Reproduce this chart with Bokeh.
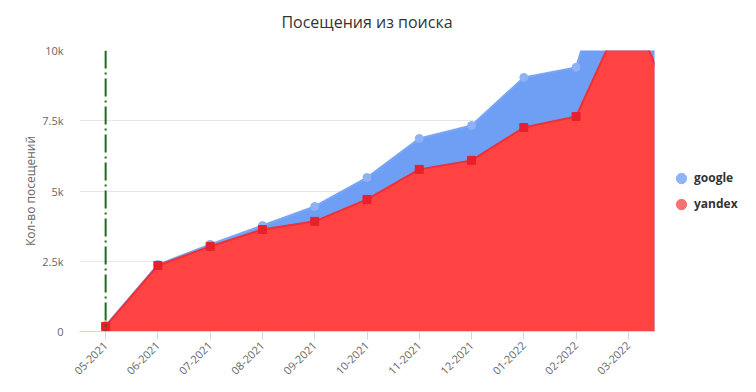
import math
from bokeh.plotting import figure
from bokeh.models import ColumnDataSource, Span, FixedTicker, Range1d, Legend, LegendItem, Title
from bokeh.embed import file_html
from bokeh.resources import INLINE

months = ["05-2021", "06-2021", "07-2021", "08-2021", "09-2021", "10-2021",
          "11-2021", "12-2021", "01-2022", "02-2022", "03-2022", "04-2022"]
google = [210, 2380, 3100, 3770, 4450, 5480, 6870, 7330, 9040, 9400, 15500, 4800]
yandex = [180, 2350, 3030, 3630, 3920, 4700, 5770, 6090, 7260, 7650, 11700, 7400]
shown_months = months[:11]
y_ticks = [0, 2500, 5000, 7500, 10000]
y_tick_labels = ["0", "2.5k", "5k", "7.5k", "10k"]

FONT = "Open Sans"

src = ColumnDataSource(dict(x=list(range(len(months))), month=months,
                            google=google, yandex=yandex))

p = figure(frame_width=575, frame_height=281, output_backend="svg", toolbar_location=None,
           x_range=Range1d(-0.5, len(shown_months) - 0.5),
           y_range=Range1d(0, 10000),
           min_border_left=79, min_border_right=10, min_border_top=50,
           min_border_bottom=56)
p.outline_line_color = None
p.background_fill_color = "white"

p.title.text = "Посещения из поиска"
p.title.align = "center"
p.title.text_font = FONT
p.title.text_font_size = "16px"
p.title.text_font_style = "normal"
p.title.text_color = "#333333"
p.title.offset = 0
p.title.standoff = 0

# invisible spacer between the title and the plot area
spacer = Title(text=" ", text_font_size="14px", standoff=0, text_color="white")
p.add_layout(spacer, "above")

# google series
p.varea(x="x", y1=0, y2="google", source=src, fill_color="#6f9ff5", fill_alpha=1.0)
p.line(x="x", y="google", source=src, line_color="#7aa6f4", line_width=2)
p.scatter(x="x", y="google", source=src, marker="circle", size=8,
          fill_color="#8cb2f5", line_color="#8cb2f5")
# yandex series
p.varea(x="x", y1=0, y2="yandex", source=src, fill_color="#ff4242", fill_alpha=1.0)
p.line(x="x", y="yandex", source=src, line_color="#ee3038", line_width=2)
p.scatter(x="x", y="yandex", source=src, marker="square", size=8,
          fill_color="#e8202c", line_color="#e8202c")

# legend-only markers (no visible points)
nan_src = ColumnDataSource(dict(x=[float("nan")], y=[float("nan")]))
lg = p.scatter(x="x", y="y", source=nan_src, marker="circle", size=13,
               fill_color="#8fb3f6", line_color="#8fb3f6")
ly = p.scatter(x="x", y="y", source=nan_src, marker="circle", size=13,
               fill_color="#f47272", line_color="#f47272")

vline = Span(location=0, dimension="height", line_color="#1a6b1a", line_width=2,
             line_dash="18 4 2 4")
p.add_layout(vline)

# axes
p.xaxis.ticker = FixedTicker(ticks=list(range(len(shown_months))))
p.xaxis.major_label_overrides = {i: m for i, m in enumerate(shown_months)}
p.xaxis.major_label_orientation = math.pi / 4
p.xaxis.major_label_text_font = FONT
p.xaxis.major_label_text_font_size = "11px"
p.xaxis.major_label_text_color = "#666666"
p.xaxis.axis_line_color = "#ccd6eb"
p.xaxis.major_tick_line_color = "#ccd6eb"
p.xaxis.major_tick_out = 8
p.xaxis.major_tick_in = 0
p.xaxis.minor_tick_line_color = None
p.xaxis.major_label_standoff = 4

p.yaxis.ticker = FixedTicker(ticks=y_ticks)
p.yaxis.major_label_overrides = {t: l for t, l in zip(y_ticks, y_tick_labels)}
p.yaxis.major_label_text_font = FONT
p.yaxis.major_label_text_font_size = "11px"
p.yaxis.major_label_text_color = "#666666"
p.yaxis.axis_line_color = None
p.yaxis.major_tick_line_color = None
p.yaxis.major_tick_out = 0
p.yaxis.major_tick_in = 0
p.yaxis.minor_tick_line_color = None
p.yaxis.minor_tick_out = 0
p.yaxis.major_label_standoff = 16
p.yaxis.axis_label = "Кол-во посещений"
p.yaxis.axis_label_text_font = FONT
p.yaxis.axis_label_text_font_size = "12px"
p.yaxis.axis_label_text_font_style = "normal"
p.yaxis.axis_label_text_color = "#666666"
p.yaxis.axis_label_standoff = 0

p.xgrid.grid_line_color = None
p.ygrid.grid_line_color = "#e6e6e6"

legend = Legend(items=[LegendItem(label="google", renderers=[lg]),
                       LegendItem(label="yandex", renderers=[ly])],
                location="center_left", orientation="vertical")
legend.label_text_font = FONT
legend.label_text_font_size = "12px"
legend.label_text_font_style = "bold"
legend.label_text_color = "#333333"
legend.border_line_color = None
legend.background_fill_alpha = 0
legend.glyph_width = 26
legend.glyph_height = 26
legend.label_height = 26
legend.spacing = 0
legend.padding = 0
legend.margin = 14
legend.label_standoff = 0
p.add_layout(legend, "right")

open("out.html", "w").write(file_html(p, INLINE))
